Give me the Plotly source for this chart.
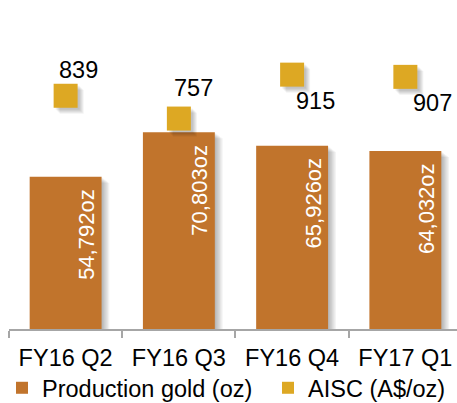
import plotly.graph_objects as go

# Quarterly gold production and all-in sustaining cost
quarters = ["FY16 Q2", "FY16 Q3", "FY16 Q4", "FY17 Q1"]
production_oz = [54792, 70803, 65926, 64032]
aisc_aud_per_oz = [839, 757, 915, 907]

# AISC label offsets (px) relative to each marker
aisc_label_dx = [13, 15, 23, 27]
aisc_label_dy = [26, 31, -26, -26]

BAR_COLOR = "#C1742C"
MARK_COLOR = "#DDA823"
AXIS_GREY = "#A6A6A6"
FONT = "Liberation Sans, Arial, sans-serif"

W, H = 457, 403
M_L, M_R, M_T, M_B = 9, 0, 10, 74
plot_w = W - M_L - M_R
plot_h = H - M_T - M_B

X_RANGE = [-0.5, 3.456]
Y_RANGE = [0, 114800]
Y2_RANGE = [0, 1147.5]
BAR_W = 0.635

px_x = (X_RANGE[1] - X_RANGE[0]) / plot_w
px_y = (Y_RANGE[1] - Y_RANGE[0]) / plot_h
px_y2 = (Y2_RANGE[1] - Y2_RANGE[0]) / plot_h

fig = go.Figure()

# soft drop shadow behind the bars
for i in range(1, 7):
    fig.add_trace(go.Bar(
        x=quarters, y=[v - i * 1.0 * px_y for v in production_oz],
        width=BAR_W, offset=-BAR_W / 2 + i * 1.3 * px_x,
        marker=dict(color="rgba(0,0,0,0.05)", line=dict(width=0)),
        hoverinfo="skip", showlegend=False,
    ))

fig.add_trace(go.Bar(
    x=quarters, y=production_oz, name="Production gold (oz)",
    width=BAR_W, offset=-BAR_W / 2, legend="legend",
    marker=dict(color=BAR_COLOR, line=dict(width=0)),
))

# AISC markers sit on a numeric overlay axis so the shadow can be nudged
idx = list(range(len(quarters)))
for i in range(2, 7):
    fig.add_trace(go.Scatter(
        x=[k + i * px_x for k in idx],
        y=[v - i * px_y2 for v in aisc_aud_per_oz],
        mode="markers", xaxis="x2", yaxis="y2",
        marker=dict(symbol="square", size=24, color="rgba(0,0,0,0.05)", line=dict(width=0)),
        hoverinfo="skip", showlegend=False,
    ))

fig.add_trace(go.Scatter(
    x=idx, y=aisc_aud_per_oz, name="AISC (A$/oz)",
    mode="markers", xaxis="x2", yaxis="y2", legend="legend2",
    marker=dict(symbol="square", size=24, color=MARK_COLOR, line=dict(width=0)),
))

annotations = []
for q, v in zip(quarters, production_oz):
    annotations.append(dict(
        x=q, y=v, xref="x", yref="y", text=f"{v:,}oz", showarrow=False,
        textangle=-90, xanchor="center", yanchor="top", xshift=21, yshift=-10,
        font=dict(family=FONT, size=22, color="white"),
    ))
for k, v, dx, dy in zip(idx, aisc_aud_per_oz, aisc_label_dx, aisc_label_dy):
    annotations.append(dict(
        x=k, y=v, xref="x2", yref="y2", text=str(v), showarrow=False,
        xanchor="center", yanchor="middle", xshift=dx, yshift=dy,
        font=dict(family=FONT, size=23.5, color="black"),
    ))

legend_common = dict(
    orientation="h", xref="container", yref="paper",
    yanchor="bottom", xanchor="left", y=-(M_B + 7) / plot_h,
    font=dict(family=FONT, size=23.5, color="black"),
    itemsizing="constant", bgcolor="rgba(0,0,0,0)", itemclick=False,
)

fig.update_layout(
    width=W, height=H,
    margin=dict(l=M_L, r=M_R, t=M_T, b=M_B, pad=0, autoexpand=False),
    paper_bgcolor="white", plot_bgcolor="white",
    barmode="overlay",
    font=dict(family=FONT, size=23.5, color="black"),
    xaxis=dict(
        type="category", range=X_RANGE, showgrid=False, zeroline=False,
        showline=True, linecolor=AXIS_GREY, linewidth=2,
        ticks="outside", tickson="boundaries", ticklen=7, tickwidth=1.5, tickcolor=AXIS_GREY,
        ticklabelstandoff=7,
        tickfont=dict(family=FONT, size=23.5, color="black"),
    ),
    xaxis2=dict(
        overlaying="x", range=X_RANGE, visible=False, showgrid=False, zeroline=False,
    ),
    yaxis=dict(range=Y_RANGE, visible=False, showgrid=False, zeroline=False),
    yaxis2=dict(range=Y2_RANGE, overlaying="y", side="right", visible=False,
                showgrid=False, zeroline=False),
    showlegend=True,
    legend=dict(x=2 / W, **legend_common),
    legend2=dict(x=268 / W, **legend_common),
    annotations=annotations,
)

fig.write_html("out.html")
